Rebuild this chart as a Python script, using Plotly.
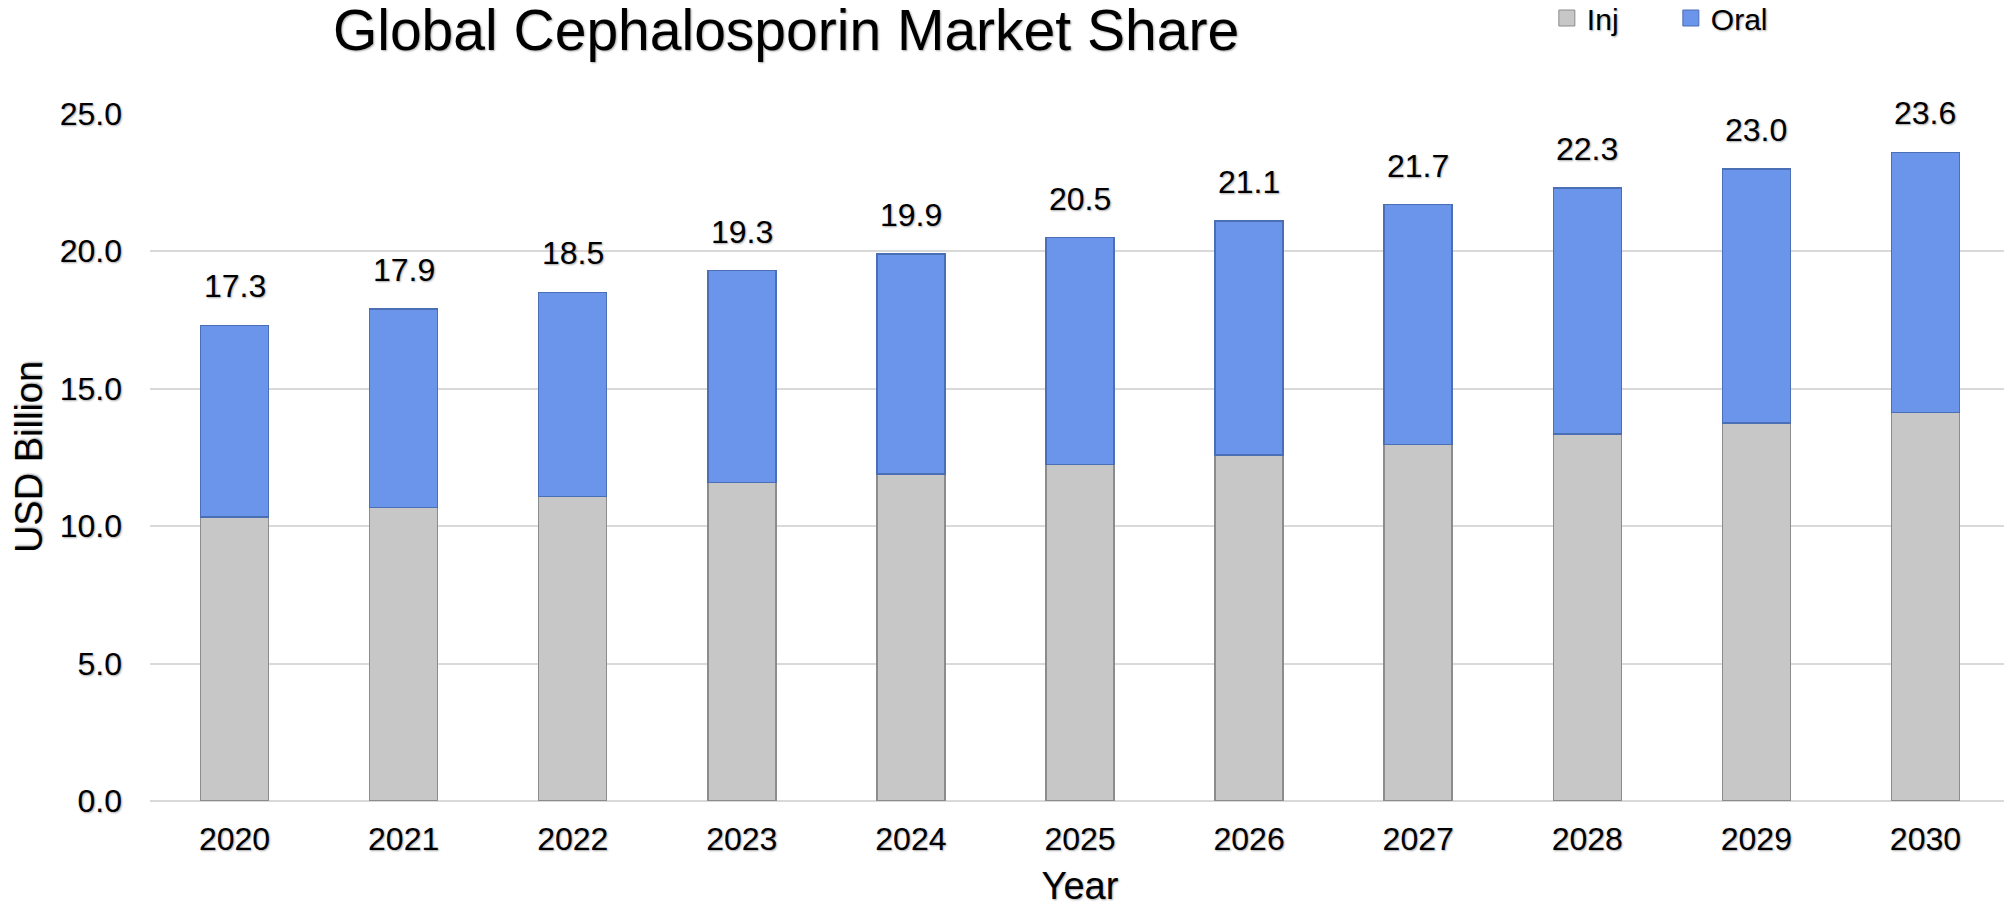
import plotly.graph_objects as go

years = ["2020", "2021", "2022", "2023", "2024", "2025", "2026", "2027", "2028", "2029", "2030"]
totals = [17.3, 17.9, 18.5, 19.3, 19.9, 20.5, 21.1, 21.7, 22.3, 23.0, 23.6]
inj = [10.34, 10.68, 11.07, 11.58, 11.89, 12.25, 12.58, 12.97, 13.35, 13.76, 14.13]
oral = [round(t - i, 2) for t, i in zip(totals, inj)]
y_ticks = [0, 5, 10, 15, 20, 25]

FONT = "Liberation Sans, Arial, sans-serif"
SHADOW = "1px 1px 2px rgba(0,0,0,0.35)"
INJ_COLOR = "#c7c7c7"
INJ_LINE = "#8c8c8c"
ORAL_COLOR = "#6a95ea"
ORAL_LINE = "#4a6fb5"

# The page body has an 8px margin, so the figure is sized to fill the rest of the window.
W, H = 2004, 899

fig = go.Figure()
fig.add_trace(go.Bar(
    x=years, y=inj, name="Inj", showlegend=False,
    marker=dict(color=INJ_COLOR, line=dict(color=INJ_LINE, width=1.5)),
    hoverinfo="x+y",
))
fig.add_trace(go.Bar(
    x=years, y=oral, name="Oral", showlegend=False,
    marker=dict(color=ORAL_COLOR, line=dict(color=ORAL_LINE, width=1.5)),
    hoverinfo="x+y",
))
# legend entries with larger square swatches
for nm, col, ln in [("Inj", INJ_COLOR, INJ_LINE), ("Oral", ORAL_COLOR, ORAL_LINE)]:
    fig.add_trace(go.Scatter(
        x=[None], y=[None], mode="markers", name=nm,
        marker=dict(symbol="square", size=16, color=col, line=dict(color=ln, width=1)),
    ))

# total labels above each stacked bar (category index positions)
for idx, t in enumerate(totals):
    fig.add_annotation(
        x=idx, y=t, text=f"{t:.1f}", showarrow=False,
        yanchor="bottom", yshift=19,
        font=dict(family=FONT, size=32, color="#000000", shadow=SHADOW),
    )

fig.update_layout(
    width=W, height=H,
    barmode="stack", bargap=0.598,
    plot_bgcolor="white", paper_bgcolor="white",
    margin=dict(l=142, r=2, t=105, b=106, autoexpand=False),
    font=dict(family=FONT, size=32, color="#000000"),
    title=dict(
        text="Global Cephalosporin Market Share",
        x=778 / W, xanchor="center", xref="container",
        y=1 - 22 / H, yanchor="middle", yref="container",
        font=dict(family=FONT, size=57, color="#000000", shadow=SHADOW),
    ),
    legend=dict(
        orientation="h",
        x=1505 / W, xanchor="left",
        y=1 - 10 / H, yanchor="middle", yref="container",
        font=dict(family=FONT, size=30, color="#000000", shadow=SHADOW),
        bgcolor="rgba(0,0,0,0)",
        traceorder="normal",
        entrywidth=79, entrywidthmode="pixels",
    ),
    showlegend=True,
)

fig.update_xaxes(
    type="category",
    showgrid=False, showline=False, zeroline=False,
    ticks="", ticklabelstandoff=16,
    tickfont=dict(family=FONT, size=32, color="#000000", shadow=SHADOW),
    title=dict(text="Year", standoff=17,
               font=dict(family=FONT, size=38, color="#000000", shadow=SHADOW)),
)
fig.update_yaxes(
    range=[0, 25.03],
    tickvals=y_ticks, tickformat=".1f",
    showgrid=True, gridcolor="#d9d9d9", gridwidth=1.5,
    zeroline=True, zerolinecolor="#d9d9d9", zerolinewidth=1.5,
    showline=False, ticks="", ticklabelstandoff=27,
    tickfont=dict(family=FONT, size=32, color="#000000", shadow=SHADOW),
    title=dict(text="USD Billion", standoff=34,
               font=dict(family=FONT, size=38, color="#000000", shadow=SHADOW)),
)

fig.write_html("out.html")
